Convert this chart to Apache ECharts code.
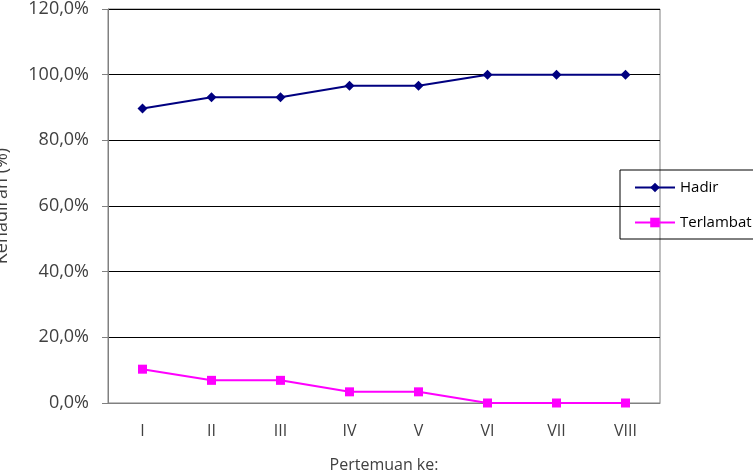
<!DOCTYPE html>
<html>
<head>
<meta charset="utf-8">
<script src="https://cdn.jsdelivr.net/npm/echarts@6/dist/echarts.min.js"></script>
<style>
  html, body { margin: 0; padding: 0; background: #fff; }
  #chart { width: 753px; height: 472px; }
</style>
</head>
<body>
<div id="chart"></div>
<script>
// data
const meetings = ['I', 'II', 'III', 'IV', 'V', 'VI', 'VII', 'VIII']
const hadir = [89.7, 93.1, 93.1, 96.6, 96.6, 100, 100, 100]
const terlambat = [10.3, 6.9, 6.9, 3.4, 3.4, 0, 0, 0]

const chart = echarts.init(document.getElementById('chart'))
const font = '"Open Sans", Lato, sans-serif'

chart.setOption({
  animation: false,
  textStyle: { fontFamily: font },
  grid: {
    left: 108, right: 93, top: 9, bottom: 69,
    outerBoundsMode: 'none',
    containLabel: false,
    show: true, borderColor: '#808080', borderWidth: 1
  },
  legend: {
    orient: 'vertical',
    left: 620, top: 170,
    padding: [10, 40, 9, 14],
    itemWidth: 40, itemHeight: 12, itemGap: 20,
    borderColor: '#000', borderWidth: 1,
    textStyle: { fontFamily: font, fontSize: 15, color: '#000' },
    data: ['Hadir', 'Terlambat']
  },
  xAxis: {
    type: 'category',
    data: meetings,
    boundaryGap: true,
    name: 'Pertemuan ke:',
    nameLocation: 'middle',
    nameGap: 54,
    nameTextStyle: { fontSize: 16, color: '#404040' },
    axisLine: { lineStyle: { color: '#808080' } },
    axisTick: { length: 5, lineStyle: { color: '#808080' } },
    axisLabel: { fontSize: 16, color: '#404040', margin: 20 }
  },
  yAxis: {
    type: 'value',
    min: 0, max: 120, interval: 20,
    name: 'Kehadiran (%)',
    nameLocation: 'middle',
    nameRotate: 90,
    nameGap: 97,
    nameTextStyle: { fontSize: 18, color: '#404040' },
    axisLine: { show: true, lineStyle: { color: '#808080' } },
    axisTick: { show: true, length: 6, lineStyle: { color: '#808080' } },
    axisLabel: {
      fontSize: 18, color: '#404040', margin: 19,
      formatter: v => v.toFixed(1).replace('.', ',') + '%'
    },
    splitLine: { lineStyle: { color: '#000', width: 1 } }
  },
  series: [
    {
      name: 'Hadir',
      type: 'line',
      data: hadir,
      symbol: 'diamond',
      symbolSize: 10,
      itemStyle: { color: '#000080' },
      lineStyle: { color: '#000080', width: 2 }
    },
    {
      name: 'Terlambat',
      type: 'line',
      data: terlambat,
      symbol: 'rect',
      symbolSize: 9,
      itemStyle: { color: '#ff00ff' },
      lineStyle: { color: '#ff00ff', width: 2 }
    }
  ]
})
</script>
</body>
</html>
